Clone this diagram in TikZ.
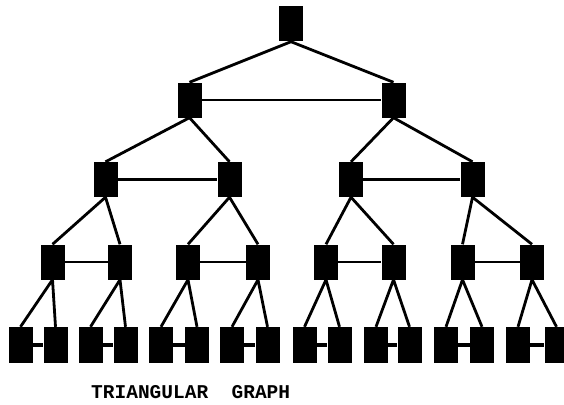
\documentclass[tikz,border=0pt]{standalone}
\usepackage{fontspec}
\newfontfamily\labelfont{Liberation Mono}
\begin{document}
\begin{tikzpicture}[x=1pt,y=-1pt,
  vbox/.style={draw=none,fill=black,minimum width=24pt,minimum height=35pt,inner sep=0pt},
  tree/.style={line width=2.8pt,black},
  sib/.style={line width=2.5pt,black},
  leafsib/.style={line width=3.4pt,black}]
\useasboundingbox (0,0) rectangle (564,404);
% root and first level
\node[vbox] (r) at (291,24) {};
\node[vbox] (a1) at (189.5,100) {};
\node[vbox] (a2) at (393.5,100) {};
% second level
\foreach \i/\x in {1/105.5,2/229.5,3/351,4/472.5}
  \node[vbox] (b\i) at (\x,179.5) {};
% third level
\foreach \i/\x in {1/52.5,2/120,3/188,4/258,5/326,6/393.5,7/462.5,8/532}
  \node[vbox] (c\i) at (\x,262) {};
% leaves
\foreach \i/\x in {1/20.5,2/55.5,3/90.5,4/125.5,5/161,6/197,7/232,8/267.5,
                   9/304.5,10/339.5,11/376,12/409.5,13/446,14/482,15/518,16/556.5}
  \node[vbox,minimum height=36pt] (d\i) at (\x,345) {};
% parent-child edges
\draw[tree] (r.south) -- (a1.north) (r.south) -- (a2.north);
\draw[tree] (a1.south) -- (b1.north) (a1.south) -- (b2.north)
            (a2.south) -- (b3.north) (a2.south) -- (b4.north);
\foreach \p/\l/\r in {1/1/2,2/3/4,3/5/6,4/7/8}
  \draw[tree] (b\p.south) -- (c\l.north) (b\p.south) -- (c\r.north);
\foreach \p in {1,...,8}{
  \pgfmathtruncatemacro{\l}{2*\p-1}
  \pgfmathtruncatemacro{\r}{2*\p}
  \draw[tree] (c\p.south) -- (d\l.north) (c\p.south) -- (d\r.north);
}
% sibling links
\draw[sib] (a1.east) -- (a2.west);
\draw[sib] (b1.east) -- (b2.west) (b3.east) -- (b4.west);
\foreach \l/\r in {1/2,3/4,5/6,7/8}
  \draw[sib] (c\l.east) -- (c\r.west);
\foreach \l/\r in {1/2,3/4,5/6,7/8,9/10,11/12,13/14,15/16}
  \draw[leafsib] (d\l.east) -- (d\r.west);
% caption
\node[anchor=base west,inner sep=0pt,font=\labelfont\bfseries\fontsize{19.5}{20}\selectfont] (cap) at (91,398) {TRIANGULAR\ \ GRAPH};
\end{tikzpicture}
\end{document}
